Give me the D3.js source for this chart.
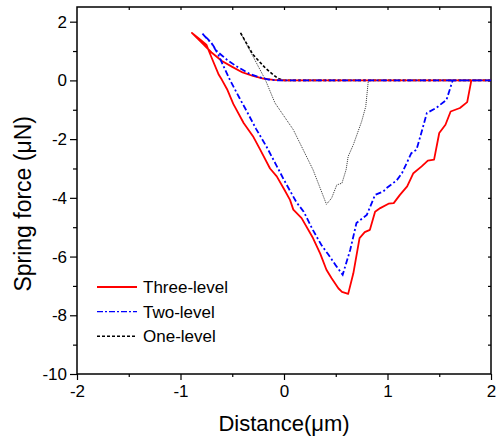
<!DOCTYPE html>
<html>
<head>
<meta charset="utf-8">
<script src="https://cdn.jsdelivr.net/npm/d3@7"></script>
<style>
  body { margin: 0; background: #fff; }
  svg { display: block; font-family: "Liberation Sans", Arial, sans-serif; }
</style>
</head>
<body>
<div id="chart"></div>
<script>
// values (distance in um, force in uN)
const threeDist = [2, 0, -0.1, -0.2, -0.3, -0.4, -0.5, -0.6, -0.7, -0.8, -0.89,
  -0.82, -0.75, -0.70, -0.63, -0.6, -0.55, -0.49, -0.39, -0.3, -0.23, -0.135, -0.07, 0.0, 0.058, 0.09, 0.17, 0.28, 0.35, 0.41, 0.46, 0.525, 0.56, 0.62,
  0.67, 0.73, 0.78, 0.83, 0.88, 0.93, 1.01, 1.06, 1.12, 1.19, 1.25, 1.33, 1.39, 1.45, 1.50, 1.56, 1.61, 1.70, 1.77, 1.81, 2]
const threeForce = [0, 0, 0.02, 0.06, 0.15, 0.27, 0.46, 0.66, 0.95, 1.3, 1.62,
  1.42, 1.22, 0.78, 0.19, 0.02, -0.3, -0.8, -1.45, -1.9, -2.36, -3.0, -3.27, -3.7, -4.07, -4.4, -4.69, -5.37, -5.9, -6.45, -6.74, -7.08, -7.2, -7.27,
  -6.57, -5.37, -5.17, -5.09, -4.47, -4.35, -4.2, -4.18, -3.9, -3.61, -3.16, -2.93, -2.73, -2.7, -1.79, -1.51, -1.06, -0.94, -0.74, 0, 0]

const twoDist = [2, -0.05, -0.15, -0.25, -0.33, -0.4, -0.46, -0.55, -0.6, -0.65, -0.70, -0.74, -0.795,
  -0.74, -0.70, -0.635, -0.58, -0.52, -0.43, -0.36, -0.27, -0.17, -0.08, 0.0, 0.12, 0.19, 0.28, 0.36, 0.43, 0.5, 0.567,
  0.64, 0.70, 0.80, 0.88, 0.96, 0.99, 1.09, 1.14, 1.23, 1.28, 1.33, 1.38, 1.47, 1.57, 1.63, 2]
const twoForce = [0, 0, 0.03, 0.12, 0.22, 0.36, 0.48, 0.7, 0.85, 1.0, 1.27, 1.4, 1.62,
  1.42, 1.27, 0.88, 0.45, 0, -0.6, -1.05, -1.65, -2.25, -2.85, -3.39, -4.15, -4.47, -5.1, -5.6, -5.94, -6.3, -6.62,
  -5.77, -4.86, -4.58, -3.9, -3.78, -3.67, -3.4, -3.16, -2.48, -2.36, -1.75, -1.11, -0.94, -0.66, 0, 0]

const oneApproachDist = [2, 0, -0.055, -0.1, -0.18, -0.30, -0.42]
const oneApproachForce = [0, 0, 0.06, 0.18, 0.42, 0.88, 1.62]
const oneRetractDist = [-0.42, -0.3, -0.18, -0.087, 0.09, 0.28, 0.41, 0.46, 0.51, 0.56, 0.60, 0.62, 0.67, 0.75, 0.79, 0.815, 2]
const oneRetractForce = [1.62, 0.82, 0.02, -0.77, -1.68, -3.04, -4.22, -4.01, -3.56, -3.5, -3.04, -2.59, -2.19, -1.4, -0.89, 0, 0]

const legendLabels = ["Three-level", "Two-level", "One-level"]
const xTicks = [-2, -1, 0, 1, 2]
const yTicks = [2, 0, -2, -4, -6, -8, -10]

const width = 496, height = 441
const margin = { top: 7, right: 5, bottom: 67, left: 77 }

const svg = d3.select("#chart").append("svg")
  .attr("width", width)
  .attr("height", height)

const x = d3.scaleLinear().domain([-2, 2]).range([margin.left, width - margin.right])
const y = d3.scaleLinear().domain([-10, 2.5]).range([height - margin.bottom, margin.top])

const zip = (a, b) => a.map((d, i) => [d, b[i]])
const line = d3.line().x(d => x(d[0])).y(d => y(d[1]))
const plain = d => String(d)   // keep the ascii hyphen like the original

// frame
svg.append("rect")
  .attr("x", x(-2)).attr("y", y(2.5))
  .attr("width", x(2) - x(-2)).attr("height", y(-10) - y(2.5))
  .attr("fill", "none").attr("stroke", "#000").attr("stroke-width", 1.5)

// bottom axis, minor then major
svg.append("g")
  .attr("transform", `translate(0,${y(-10)})`)
  .call(d3.axisBottom(x).tickValues(d3.range(-1.5, 2, 1)).tickSize(3).tickFormat(""))
svg.append("g")
  .attr("transform", `translate(0,${y(-10)})`)
  .call(d3.axisBottom(x).tickValues(xTicks).tickSize(6).tickPadding(5).tickFormat(plain))
  .attr("font-size", "17px")

// left axis
svg.append("g")
  .attr("transform", `translate(${x(-2)},0)`)
  .call(d3.axisLeft(y).tickValues(d3.range(-9, 2, 2)).tickSize(4).tickFormat(""))
svg.append("g")
  .attr("transform", `translate(${x(-2)},0)`)
  .call(d3.axisLeft(y).tickValues(yTicks).tickSize(7).tickPadding(3).tickFormat(plain))
  .attr("font-size", "17px")

// inward ticks on top and right
svg.append("g")
  .attr("transform", `translate(0,${y(2.5)})`)
  .call(d3.axisBottom(x).tickValues(d3.range(-1.5, 2, 0.5)).tickSize(3).tickFormat(""))
svg.append("g")
  .attr("transform", `translate(${x(2)},0)`)
  .call(d3.axisLeft(y).tickValues(d3.range(-9, 3, 1)).tickSize(3).tickFormat(""))

svg.selectAll(".domain").remove()
svg.selectAll(".tick line").attr("stroke", "#000").attr("stroke-width", 1.2)
svg.selectAll(".tick text").attr("fill", "#000")

// curves
svg.append("path")
  .attr("d", line(zip(oneRetractDist, oneRetractForce)))
  .attr("fill", "none").attr("stroke", "#333").attr("stroke-width", 1)
  .attr("stroke-dasharray", "1,1")
svg.append("path")
  .attr("d", line(zip(oneApproachDist, oneApproachForce)))
  .attr("fill", "none").attr("stroke", "#000").attr("stroke-width", 1.6)
  .attr("stroke-dasharray", "3,2")
svg.append("path")
  .attr("d", line(zip(threeDist, threeForce)))
  .attr("fill", "none").attr("stroke", "#ff0000").attr("stroke-width", 1.8)
  .attr("stroke-linejoin", "round")
svg.append("path")
  .attr("d", line(zip(twoDist, twoForce)))
  .attr("fill", "none").attr("stroke", "#0000ff").attr("stroke-width", 1.8)
  .attr("stroke-dasharray", "6,2.5,2,2.5")

// legend
const legendStyles = [
  { stroke: "#ff0000", dash: null, w: 1.8 },
  { stroke: "#0000ff", dash: "6,2,2,2", w: 1.4 },
  { stroke: "#000", dash: "3,2", w: 1.4 }
]
const legend = svg.append("g").attr("transform", "translate(97,287)")
legendLabels.forEach((name, i) => {
  const g = legend.append("g").attr("transform", `translate(0,${i * 24.6})`)
  g.append("line").attr("x1", 0).attr("x2", 40)
    .attr("stroke", legendStyles[i].stroke)
    .attr("stroke-width", legendStyles[i].w)
    .attr("stroke-dasharray", legendStyles[i].dash)
  g.append("text").attr("x", 46).attr("dy", "0.35em")
    .attr("font-size", "17px").text(name)
})

// axis titles
svg.append("text")
  .attr("x", x(0)).attr("y", 431)
  .attr("text-anchor", "middle").attr("font-size", "22px")
  .text("Distance(μm)")
svg.append("text")
  .attr("transform", `translate(31,${y(-4) + 6}) rotate(-90)`)
  .attr("text-anchor", "middle").attr("font-size", "23px")
  .text("Spring force (μN)")
</script>
</body>
</html>
